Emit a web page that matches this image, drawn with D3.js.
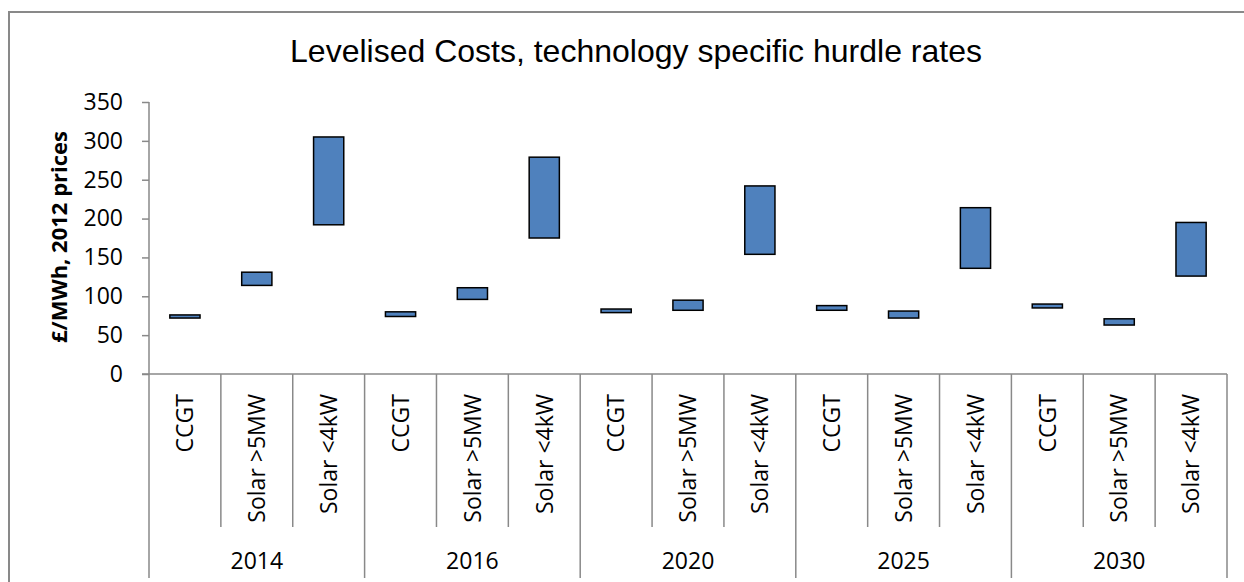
<!DOCTYPE html>
<html>
<head>
<meta charset="utf-8">
<script src="https://cdn.jsdelivr.net/npm/d3@7"></script>
<style>
  body { margin: 0; background: #fff; }
  svg { display: block; }
</style>
</head>
<body>
<svg id="svg" width="1244" height="582"></svg>
<script>
  // chart data
  var years = ["2014", "2016", "2020", "2025", "2030"];
  var techs = ["CCGT", "Solar >5MW", "Solar <4kW"];
  // low / high end of each range, in year then technology order
  var lowValues  = [72, 114, 192,  74, 96, 175,  79, 82, 154,  82, 72, 136,  85, 63, 126];
  var highValues = [76, 131, 305,  80, 111, 279,  83.6, 95, 242,  88, 81, 214,  90, 71, 195];
  var yTicks = [0, 50, 100, 150, 200, 250, 300, 350];

  var svg = d3.select("#svg");

  var axisColor = "#898989";
  var labelFont = "'Open Sans', sans-serif";

  // plot area
  var plotLeft = 149, plotRight = 1227, plotTop = 102, plotBottom = 374;

  // outer chart border (cut off on right and bottom as in the picture)
  svg.append("rect")
    .attr("x", 9).attr("y", 12)
    .attr("width", 1300).attr("height", 700)
    .attr("fill", "none")
    .attr("stroke", axisColor)
    .attr("stroke-width", 2);

  // one bar slot per year/technology pair
  var bars = [];
  years.forEach(function(yr, i) {
    techs.forEach(function(t, j) {
      var k = i * techs.length + j;
      bars.push({ year: yr, tech: t, index: k, low: lowValues[k], high: highValues[k] });
    });
  });

  var x = d3.scaleBand()
    .domain(d3.range(bars.length))
    .range([plotLeft, plotRight])
    .padding(0);

  var y = d3.scaleLinear()
    .domain([0, 350])
    .range([plotBottom, plotTop]);

  // title
  svg.append("text")
    .attr("x", 636)
    .attr("y", 62)
    .attr("text-anchor", "middle")
    .attr("font-family", "'Liberation Sans', Arial, sans-serif")
    .attr("font-size", 32)
    .attr("fill", "#000")
    .text("Levelised Costs, technology specific hurdle rates");

  // y axis
  var yAxis = svg.append("g")
    .attr("transform", "translate(" + plotLeft + ",0)")
    .call(d3.axisLeft(y).tickValues(yTicks).tickSize(7).tickPadding(19));

  yAxis.selectAll("path, line")
    .attr("stroke", axisColor)
    .attr("stroke-width", 1.5);
  yAxis.select(".domain").attr("d", "M0," + y(350) + "V" + y(0));
  yAxis.selectAll("text")
    .attr("font-family", labelFont)
    .attr("font-size", 23)
    .attr("fill", "#000");

  // y axis title
  svg.append("text")
    .attr("transform", "translate(67," + ((plotTop + plotBottom) / 2 - 1) + ") rotate(-90)")
    .attr("text-anchor", "middle")
    .attr("font-family", labelFont)
    .attr("font-weight", "bold")
    .attr("font-size", 22)
    .attr("fill", "#000")
    .text("£/MWh, 2012 prices");

  // category axis: baseline plus separators
  var gx = svg.append("g");
  gx.append("line")
    .attr("x1", plotLeft - 7).attr("x2", plotRight)
    .attr("y1", y(0)).attr("y2", y(0))
    .attr("stroke", axisColor).attr("stroke-width", 1.5);

  var bounds = d3.range(bars.length + 1);
  gx.selectAll("line.sep")
    .data(bounds)
    .enter().append("line")
    .attr("class", "sep")
    .attr("x1", function(d) { return d < bars.length ? x(d) : plotRight; })
    .attr("x2", function(d) { return d < bars.length ? x(d) : plotRight; })
    .attr("y1", y(0))
    .attr("y2", function(d) { return d % techs.length == 0 ? 578 : 527; })
    .attr("stroke", axisColor)
    .attr("stroke-width", 1.5);

  // technology labels, rotated
  gx.selectAll("text.tech")
    .data(bars)
    .enter().append("text")
    .attr("class", "tech")
    .attr("transform", function(d) {
      return "translate(" + (x(d.index) + x.bandwidth() / 2) + ",394) rotate(-90)";
    })
    .attr("dy", "0.36em")
    .attr("text-anchor", "end")
    .attr("font-family", labelFont)
    .attr("font-size", 23)
    .attr("fill", "#000")
    .text(function(d) { return d.tech; });

  // year labels
  gx.selectAll("text.year")
    .data(years)
    .enter().append("text")
    .attr("class", "year")
    .attr("x", function(d, i) { return x(i * techs.length) + x.bandwidth() * techs.length / 2; })
    .attr("y", 569)
    .attr("text-anchor", "middle")
    .attr("font-family", labelFont)
    .attr("font-size", 23)
    .attr("fill", "#000")
    .text(function(d) { return d; });

  // floating range bars
  var barWidth = x.bandwidth() * 0.42;
  svg.append("g").selectAll("rect")
    .data(bars)
    .enter().append("rect")
    .attr("x", function(d) { return x(d.index) + (x.bandwidth() - barWidth) / 2; })
    .attr("y", function(d) { return y(d.high); })
    .attr("width", barWidth)
    .attr("height", function(d) { return y(d.low) - y(d.high); })
    .attr("fill", "#4f81bd")
    .attr("stroke", "#000")
    .attr("stroke-width", 1.5);
</script>
</body>
</html>
